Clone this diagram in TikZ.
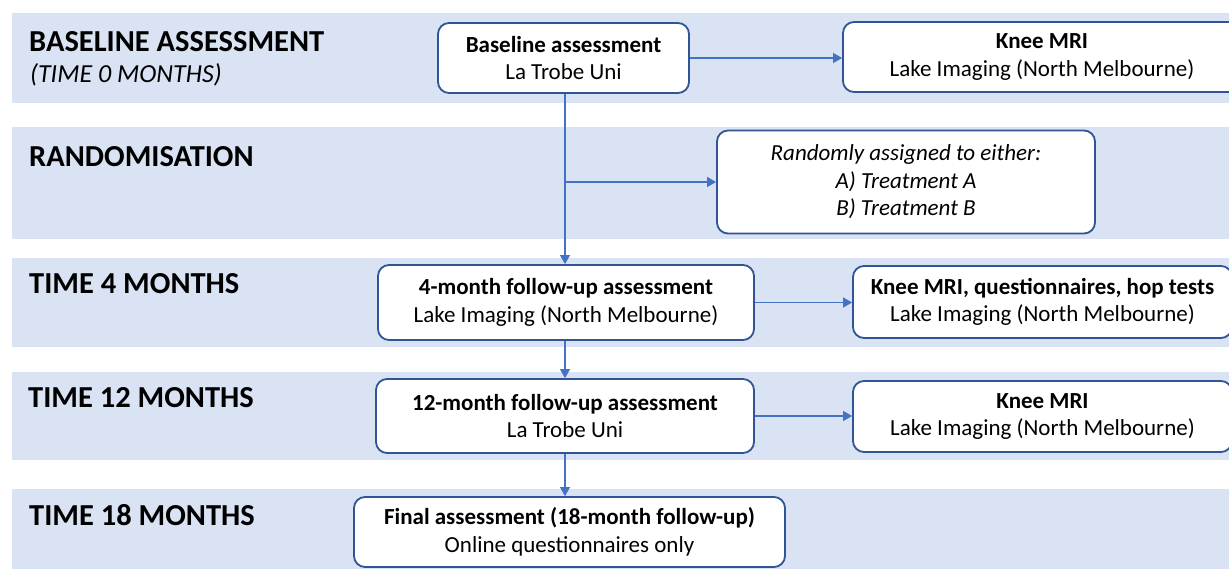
\documentclass[tikz,border=0pt]{standalone}
\usepackage{fontspec}
\setmainfont{Carlito}
\usetikzlibrary{arrows.meta}

\definecolor{bandblue}{HTML}{DAE3F3}
\definecolor{edgeblue}{HTML}{2F5597}
\definecolor{linkblue}{HTML}{4472C4}

\tikzset{
  band/.style={fill=bandblue},
  phase/.style={anchor=base west, inner sep=0pt, font=\fontsize{30.5}{36}\selectfont\bfseries},
  stage/.style={draw=edgeblue, line width=1.8pt, rounded corners=11pt, fill=white,
    align=center, inner sep=0pt, font=\fontsize{23}{27.5}\selectfont},
  link/.style={draw=linkblue, line width=1.1pt, -{Triangle[width=10pt,length=9pt]}}
}

\begin{document}
\begin{tikzpicture}[x=1pt, y=-1pt]
  \useasboundingbox (0,0) rectangle (1229,569);
  \clip (0,0) rectangle (1229,569);
  \fill[white] (0,0) rectangle (1229,569);

  % time bands
  \fill[band] (12,13) rectangle (1229,103);
  \fill[band] (12,127) rectangle (1229,239);
  \fill[band] (12,258) rectangle (1229,347);
  \fill[band] (12,372) rectangle (1229,460);
  \fill[band] (12,489) rectangle (1229,569);

  % phase labels
  \node[phase] (lbase) at (29,52) {BASELINE ASSESSMENT};
  \node[anchor=base west, inner sep=0pt, font=\fontsize{26}{30}\selectfont\itshape] (lzero) at (30,83) {(TIME 0 MONTHS)};
  \node[phase] (lrand) at (29,167) {RANDOMISATION};
  \node[phase] (lfour) at (29,294) {TIME 4 MONTHS};
  \node[phase] (ltwelve) at (28,407) {TIME 12 MONTHS};
  \node[phase] (leighteen) at (29,525) {TIME 18 MONTHS};

  % boxes
  \node[stage, minimum width=251pt, minimum height=70pt] (base) at (563.5,58)
    {\textbf{Baseline assessment}\\La Trobe Uni};
  \node[stage, minimum width=398pt, minimum height=70pt] (knee0) at (1042,57)
    {\textbf{Knee MRI}\\Lake Imaging (North Melbourne)};
  \node[stage, minimum width=378pt, minimum height=103pt, font=\fontsize{23}{27.5}\selectfont\itshape] (rand) at (906,182)
    {Randomly assigned to either:\\A) Treatment A\\B) Treatment B};
  \node[stage, minimum width=376pt, minimum height=75pt] (fu4) at (566,302.5)
    {\textbf{4-month follow-up assessment}\\Lake Imaging (North Melbourne)};
  \node[stage, minimum width=379pt, minimum height=72pt] (knee4) at (1042.5,302)
    {\textbf{Knee MRI, questionnaires, hop tests}\\Lake Imaging (North Melbourne)};
  \node[stage, minimum width=378pt, minimum height=74pt] (fu12) at (565,416)
    {\textbf{12-month follow-up assessment}\\La Trobe Uni};
  \node[stage, minimum width=379pt, minimum height=71pt] (knee12) at (1042.5,416.5)
    {\textbf{Knee MRI}\\Lake Imaging (North Melbourne)};
  \node[stage, minimum width=431pt, minimum height=70pt] (final) at (569.5,532)
    {\textbf{Final assessment (18-month follow-up)}\\Online questionnaires only};

  % connectors
  \draw[link] (base.south -| 565,0) -- (fu4.north -| 565,0);
  \draw[link] (565,0 |- rand.west) -- (rand.west);
  \draw[link] (base.east) -- (base.east -| knee0.west);
  \draw[link] (fu4.east) -- (fu4.east -| knee4.west);
  \draw[link] (fu4.south -| 565,0) -- (fu12.north -| 565,0);
  \draw[link] (fu12.east) -- (fu12.east -| knee12.west);
  \draw[link] (fu12.south -| 565,0) -- (final.north -| 565,0);
\end{tikzpicture}
\end{document}
